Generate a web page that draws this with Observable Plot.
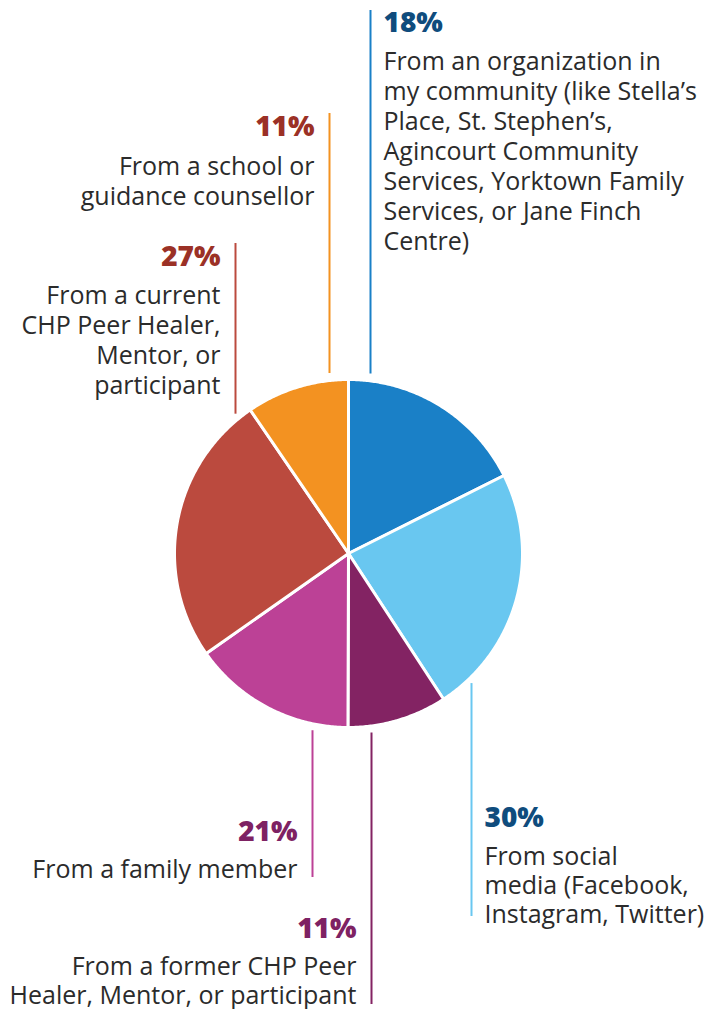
<!DOCTYPE html>
<html>
<head>
<meta charset="utf-8">
<script src="https://cdn.jsdelivr.net/npm/d3@7"></script>
<script src="https://cdn.jsdelivr.net/npm/@observablehq/plot@0.6"></script>
<style>
  html, body { margin: 0; padding: 0; background: #fff; }
  #chart svg { display: block; }
</style>
</head>
<body>
<div id="chart"></div>
<script>
// ---- Data (clockwise from 12 o'clock) ----
const categories = [
  "From an organization in\nmy community (like Stella’s\nPlace, St. Stephen’s,\nAgincourt Community\nServices, Yorktown Family\nServices, or Jane Finch\nCentre)",
  "From social\nmedia (Facebook,\nInstagram, Twitter)",
  "From a former CHP Peer\nHealer, Mentor, or participant",
  "From a family member",
  "From a current\nCHP Peer Healer,\nMentor, or\nparticipant",
  "From a school or\nguidance counsellor"
];
const pctLabels = ["18%", "30%", "11%", "21%", "27%", "11%"];
// slice sizes as drawn in the picture (share of the circle, %)
const sliceShares = [17.6, 23.2, 9.25, 15.2, 25.2, 9.55];
const sliceColors = ["#1a80c7", "#69c7f0", "#832363", "#bc4196", "#bb4a3e", "#f39221"];
const pctColors = ["#0f4c7d", "#0f4c7d", "#7e2263", "#7e2263", "#9b3126", "#9b3126"];

// ---- Layout (pixels) ----
const W = 712, H = 1009;
const cx = 348, cy = 553, r = 174;
const pctSize = 28, bodySize = 25;
// leader line x, far end y, side of text, baseline of percentage, baseline of first text line, line spacing
const layout = [
  {lx: 370, end: 10,   side: "right", pb: 31,  tb: 66,  lh: 30},
  {lx: 471, end: 916,  side: "right", pb: 826, tb: 862, lh: 29},
  {lx: 371, end: 1004, side: "left",  pb: 937, tb: 972, lh: 29},
  {lx: 312, end: 877,  side: "left",  pb: 840, tb: 874, lh: 30},
  {lx: 235, end: 243,  side: "left",  pb: 265, tb: 300, lh: 30},
  {lx: 329, end: 113,  side: "left",  pb: 135, tb: 171, lh: 30}
];
const gap = 7;

// ---- Build pie polygons ----
const total = d3.sum(sliceShares);
const polys = [];
let acc = 0;
sliceShares.forEach((s, i) => {
  const a0 = acc / total * 2 * Math.PI;
  const a1 = (acc + s) / total * 2 * Math.PI;
  acc += s;
  polys.push({i, x: cx, y: cy});
  const n = Math.max(2, Math.ceil((a1 - a0) / (Math.PI / 360)));
  for (let k = 0; k <= n; k++) {
    const t = a0 + (a1 - a0) * k / n;
    polys.push({i, x: cx + r * Math.sin(t), y: cy - r * Math.cos(t)});
  }
  polys.push({i, x: cx, y: cy});
});

const labels = categories.map((c, i) => {
  const L = layout[i];
  const dx = L.lx - cx;
  const edge = Math.sqrt(r * r - dx * dx);
  const top = L.end < cy;
  return {
    i, text: c, pct: pctLabels[i], side: L.side, lh: L.lh,
    lx: L.lx,
    y1: top ? cy - edge - gap : cy + edge + gap,
    y2: L.end,
    tx: L.side === "right" ? L.lx + 13 : L.lx - 15,
    py: L.pb - 0.71 * pctSize,
    ty: L.tb - 0.71 * bodySize,
    color: sliceColors[i], pcolor: pctColors[i]
  };
});

const font = "'Open Sans', sans-serif";

const textMarks = (data, anchor, lh) => [
  Plot.text(data, {
    x: "tx", y: "py", text: "pct", fill: "pcolor",
    textAnchor: anchor, fontWeight: 800, fontSize: pctSize, lineAnchor: "top"
  }),
  Plot.text(data, {
    x: "tx", y: "ty", text: "text", fill: "#2b2b2b",
    textAnchor: anchor, fontSize: bodySize, lineAnchor: "top", lineHeight: lh / bodySize
  })
];
const groups = d3.groups(labels, d => d.side, d => d.lh);
const allText = groups.flatMap(([side, byLh]) =>
  byLh.flatMap(([lh, data]) => textMarks(data, side === "right" ? "start" : "end", lh)));

const chart = Plot.plot({
  width: W, height: H,
  margin: 0,
  x: {domain: [0, W], range: [0, W], axis: null},
  y: {domain: [0, H], range: [0, H], axis: null},
  color: {type: "identity"},
  style: {fontFamily: font, background: "#fff"},
  marks: [
    Plot.line(polys, {
      x: "x", y: "y", z: "i",
      fill: d => sliceColors[d.i],
      stroke: "#fff", strokeWidth: 3, strokeLinejoin: "round"
    }),
    Plot.ruleX(labels, {x: "lx", y1: "y1", y2: "y2", stroke: "color", strokeWidth: 2}),
    ...allText
  ]
});
document.getElementById("chart").append(chart);
</script>
</body>
</html>
